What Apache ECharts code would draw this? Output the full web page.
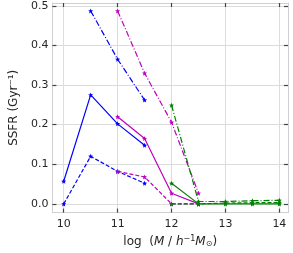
<!DOCTYPE html>
<html><head><meta charset="utf-8">
<script src="https://cdn.jsdelivr.net/npm/echarts@6/dist/echarts.min.js"></script>
<style>html,body{margin:0;padding:0;background:#fff}#c{width:293px;height:253px}</style>
</head><body><div id="c"></div>
<script>
// Data
const xTicks = [10, 11, 12, 13, 14];
const yTicks = [0.0, 0.1, 0.2, 0.3, 0.4, 0.5];
const massA = [10, 10.5, 11, 11.5];
const massB = [11, 11.5, 12, 12.5];
const massC = [12, 12.5, 13, 13.5, 14];
const blueSolid = [0.057, 0.275, 0.202, 0.148];
const blueDashed = [0.0, 0.120, 0.082, 0.052];
const blueDashDot = [null, 0.487, 0.365, 0.262];
const magSolid = [0.220, 0.165, 0.027, 0.0];
const magDashed = [0.082, 0.068, 0.0, 0.0];
const magDashDot = [0.487, 0.330, 0.206, 0.027];
const greenSolid = [0.052, 0.0, 0.0, 0.0, 0.0];
const greenDashed = [0.0, 0.0, 0.002, 0.003, 0.003];
const greenDashDot = [0.249, 0.006, 0.006, 0.008, 0.009];

function starPath(){
  const pts=[];
  for(let i=0;i<10;i++){
    const r = i%2===0?1:0.45;
    const a = -Math.PI/2 + i*Math.PI/5;
    pts.push((r*Math.cos(a)).toFixed(3)+' '+(r*Math.sin(a)).toFixed(3));
  }
  return 'path://M'+pts.join(' L')+' Z';
}
const STAR = starPath();
const DASH = [4, 2];
const DASHDOT = [6, 2, 1, 2];
function mk(xs, ys, color, type){
  return {
    type:'line', data: xs.map((x,i)=>[x, ys[i]]).filter(p=>p[1]!==null),
    symbol: STAR, symbolSize: 5, showSymbol:true,
    itemStyle:{color:color},
    lineStyle:{color:color, width:1.2, type:type},
    animation:false, z:3
  };
}
const B='#0000ff', M='#bf00bf', G='#008000';
const chart = echarts.init(document.getElementById('c'), null, {renderer:'canvas'});
const frame = {show:true, onZero:false, lineStyle:{color:'#d0d0d0', width:1}};
function ticks(vals){ return {show:true, inside:true, length:4, customValues:vals, lineStyle:{color:'#444', width:1.2}}; }
const gridLine = {show:true, lineStyle:{color:'#dcdcdc', width:1}};
chart.setOption({
  animation:false,
  grid:{left:39, right:5, top:3, bottom:37},
  xAxis:[{
    type:'value', min:9.79, max:14.16, position:'bottom',
    axisLine:frame,
    axisTick:ticks(xTicks),
    axisLabel:{customValues:xTicks, color:'#262626', fontSize:11, fontFamily:'DejaVu Sans', margin:6},
    splitLine:gridLine,
    name:'{n|log  (}{i|M}{n| / }{i|h}{s|−1}{i|M}{o|⊙}{n|)}',
    nameLocation:'middle', nameGap:20,
    nameTextStyle:{rich:{
      n:{fontSize:12, fontFamily:'DejaVu Sans', color:'#262626'},
      i:{fontSize:12, fontFamily:'DejaVu Sans', fontStyle:'italic', color:'#262626'},
      s:{fontSize:8, fontFamily:'DejaVu Sans', color:'#262626', padding:[0,0,6,0]},
      o:{fontSize:8, fontFamily:'DejaVu Sans', color:'#262626', padding:[5,0,0,0]}
    }}
  },{
    type:'value', min:9.79, max:14.16, position:'top',
    axisLine:frame,
    axisTick:ticks(xTicks),
    axisLabel:{show:false}, splitLine:{show:false}
  }],
  yAxis:[{
    type:'value', min:-0.022, max:0.507, position:'left',
    axisLine:frame,
    axisTick:ticks(yTicks),
    axisLabel:{customValues:yTicks, color:'#262626', fontSize:11, fontFamily:'DejaVu Sans', margin:4,
      formatter:v=>v.toFixed(1)},
    splitLine:gridLine,
    name:'SSFR (Gyr⁻¹)', nameLocation:'middle', nameGap:27, nameRotate:90,
    nameTextStyle:{fontSize:12, fontFamily:'DejaVu Sans', color:'#262626'}
  },{
    type:'value', min:-0.022, max:0.507, position:'right',
    axisLine:frame,
    axisTick:ticks(yTicks),
    axisLabel:{show:false}, splitLine:{show:false}
  }],
  series:[
    mk(massA, blueSolid, B, 'solid'),
    mk(massA, blueDashed, B, DASH),
    mk(massA, blueDashDot, B, DASHDOT),
    mk(massB, magSolid, M, 'solid'),
    mk(massB, magDashed, M, DASH),
    mk(massB, magDashDot, M, DASHDOT),
    mk(massC, greenSolid, G, 'solid'),
    mk(massC, greenDashed, G, DASH),
    mk(massC, greenDashDot, G, DASHDOT)
  ]
});
</script></body></html>
